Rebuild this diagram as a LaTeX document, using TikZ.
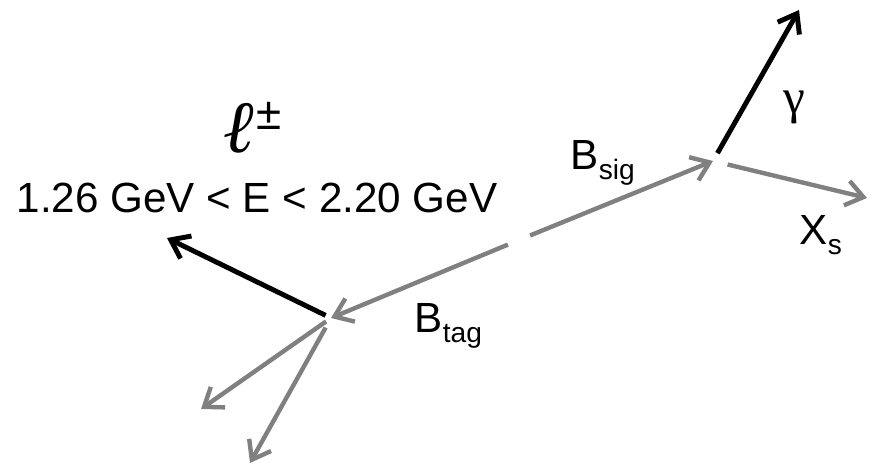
\documentclass[tikz,border=0pt]{standalone}
\usepackage{fontspec}
\setmainfont{Liberation Sans}
\newfontfamily\serifgreek{Liberation Serif}
\usetikzlibrary{arrows.meta}

\definecolor{trackgray}{RGB}{128,128,128}
\newcommand{\lowsub}[1]{\raisebox{-1mm}{\fontsize{8}{8}\selectfont #1}}

\begin{document}
\begin{tikzpicture}[x=0.1mm, y=-0.1mm,
    lbl/.style={inner sep=0pt, font=\fontsize{12}{14}\selectfont},
    track/.style={-{Straight Barb[length=1.7mm, width=2.5mm]}, line width=1.25pt, trackgray},
    photon/.style={-{Straight Barb[length=1.7mm, width=2.5mm]}, line width=1.4pt, black}
]
    \useasboundingbox (0,0) rectangle (874,465);
    \coordinate (tag)  at (331,318);
    \coordinate (sig)  at (713,161);
    \coordinate (mid)  at (519,240);
    \coordinate (lep)  at (167,238);
    \coordinate (gam)  at (799,10);
    \coordinate (xs)   at (867,198);
    \coordinate (jet1) at (201,409);
    \coordinate (jet2) at (250,463);
    \draw[track, shorten <=1.2mm] (mid) -- (tag);
    \draw[track, shorten <=1.2mm] (mid) -- (sig);
    \draw[photon, shorten <=0.9mm] (sig) -- (gam);
    \draw[track, shorten <=1.5mm] (sig) -- (xs);
    \draw[photon, shorten <=0.6mm] (tag) -- (lep);
    \draw[track, shorten <=0.6mm] (tag) -- (jet1);
    \draw[track, shorten <=1.1mm] (tag) -- (jet2);
    \node[lbl, anchor=base west] (ell) at (224,153) {{\serifgreek\bfseries\itshape\fontsize{21}{21}\selectfont ℓ}\raisebox{2.3mm}{\fontsize{13}{13}\selectfont ±}};
    \node[lbl, anchor=base] (erange) at (257,213) {1.26 GeV < E < 2.20 GeV};
    \node[lbl, font=\serifgreek\fontsize{14}{14}\selectfont] (gamlbl) at (794,107) {γ};
    \node[lbl, anchor=base west] (bsiglbl) at (570,170) {B\lowsub{sig}};
    \node[lbl, anchor=base west] (btaglbl) at (414,333) {B\lowsub{tag}};
    \node[lbl, anchor=base west] (xslbl) at (799,245) {X\lowsub{s}};
\end{tikzpicture}
\end{document}
